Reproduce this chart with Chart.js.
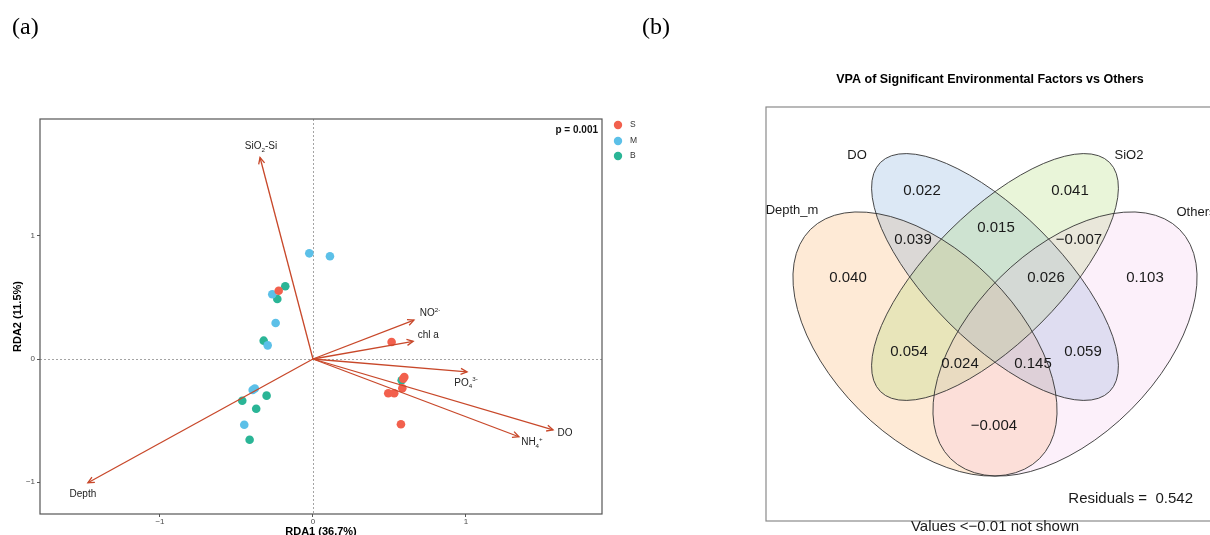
<!DOCTYPE html>
<html><head><meta charset="utf-8">
<script src="https://cdn.jsdelivr.net/npm/chart.js@4.4.1/dist/chart.umd.min.js"></script>
<style>
html,body{margin:0;padding:0;background:#fff;width:1210px;height:535px;overflow:hidden;}
#wrap{position:relative;width:1210px;height:535px;}
canvas{position:absolute;top:0;}
#ca{left:0;} #cb{left:700px;}
.pl{position:absolute;top:14px;font-family:"Liberation Serif","Times New Roman",serif;font-size:24px;line-height:1;color:#000;}
</style></head><body>
<div id="wrap">
<canvas id="ca" width="700" height="535"></canvas>
<canvas id="cb" width="510" height="535"></canvas>
<div class="pl" style="left:12px">(a)</div>
<div class="pl" style="left:642px">(b)</div>
</div>
<script>
// ---------- Panel (a): RDA biplot data ----------
const xTicks = [-1, 0, 1];
const yTicks = [-1, 0, 1];
const groups = ['S', 'M', 'B'];
const sX = [-0.224, 0.514, 0.597, 0.590, 0.584, 0.492, 0.531, 0.575];
const sY = [0.555, 0.138, -0.146, -0.160, -0.238, -0.279, -0.279, -0.531];
const mX = [-0.024, 0.111, -0.266, -0.244, -0.296, -0.394, -0.380, -0.449];
const mY = [0.859, 0.835, 0.526, 0.293, 0.111, -0.252, -0.240, -0.534];
const bX = [-0.181, -0.233, -0.322, -0.303, -0.462, -0.371, -0.414, 0.580];
const bY = [0.591, 0.488, 0.149, -0.298, -0.339, -0.404, -0.656, -0.173];
const envVars = ['SiO₂-Si', 'NO²⁻', 'chl a', 'PO₄³⁻', 'DO', 'NH₄⁺', 'Depth'];
const envX = [-0.346, 0.660, 0.655, 1.007, 1.569, 1.346, -1.471];
const envY = [1.638, 0.316, 0.144, -0.105, -0.576, -0.632, -1.006];
const pText = 'p = 0.001';
const xTitle = 'RDA1 (36.7%)';
const yTitle = 'RDA2 (11.5%)';

// ---------- Panel (b): variation partitioning data ----------
const vpaTitle = 'VPA of Significant Environmental Factors vs Others';
const vennSets = ['Depth_m', 'DO', 'SiO2', 'Others'];
const vennValues = ['0.022', '0.041', '0.015', '0.039', '\u22120.007', '0.040', '0.026', '0.103', '0.054', '0.024', '0.145', '0.059', '\u22120.004'];
const residualValue = '0.542';
const noteText = 'Values <\u22120.01 not shown';

// ---------- styles / layout ----------
const FAM = '"Liberation Sans", Arial, Helvetica, sans-serif';
Chart.defaults.font.family = FAM;
const groupColors = {S: '#F2604D', M: '#5CC0E8', B: '#2AB596'};
const arrowColor = '#C8482A';
const envLabelOffset = {'SiO₂-Si': [1, -12], 'NO²⁻': [16, -8], 'chl a': [15, -7], 'PO₄³⁻': [-1, 10], 'DO': [12, 3], 'NH₄⁺': [13, 5], 'Depth': [-5, 11]};

const vennLayout = {
  ellipses: [
    {cx: -70, cy: 0, a: 162, b: 93, rot: -45, fill: 'rgba(250,160,70,0.22)'},
    {cx: 0, cy: 67, a: 162, b: 65, rot: -45, fill: 'rgba(110,160,215,0.24)'},
    {cx: 0, cy: 67, a: 162, b: 65, rot: 45, fill: 'rgba(165,215,95,0.24)'},
    {cx: 70, cy: 0, a: 162, b: 93, rot: 45, fill: 'rgba(240,170,225,0.18)'}
  ],
  regionPos: [[-73, 153], [75, 153], [1, 116], [-82, 104], [84, 104], [-147, 66], [51, 66], [150, 66], [-86, -8], [-35, -20], [38, -20], [88, -8], [-1, -82]],
  setLabelPos: [[-203, 134], [-138, 189], [134, 189], [201, 132]],
  frame: {left: -229, top: 237, bottom: -177, right: 260},
  titlePos: [-5, 264],
  residualPos: [198, -155],
  notePos: [0, -183]
};

// ---------- helpers ----------
const SUB = {'₂': '2', '₄': '4'}, SUP = {'²': '2', '³': '3', '⁻': '-', '⁺': '+'};
function richParts(t) {
  const parts = [];
  for (const ch of t) {
    const k = SUB[ch] ? -1 : (SUP[ch] ? 1 : 0);
    const c = SUB[ch] || SUP[ch] || ch;
    if (parts.length && parts[parts.length - 1].k === k) parts[parts.length - 1].s += c;
    else parts.push({k, s: c});
  }
  return parts;
}
function drawRich(ctx, text, cx, cy, size) {
  const parts = richParts(text);
  const small = size * 0.62;
  let w = 0;
  parts.forEach(p => { ctx.font = (p.k ? small : size) + 'px ' + FAM; p.w = ctx.measureText(p.s).width; w += p.w; });
  let x = cx - w / 2;
  ctx.textAlign = 'left';
  ctx.textBaseline = 'alphabetic';
  const base = cy + size * 0.36;
  parts.forEach(p => {
    ctx.font = (p.k ? small : size) + 'px ' + FAM;
    const dy = p.k === -1 ? size * 0.25 : (p.k === 1 ? -size * 0.42 : 0);
    ctx.fillText(p.s, x, base + dy);
    x += p.w;
  });
}
const fmtTick = v => v < 0 ? '\u2212' + Math.abs(v) : String(v);

// ---------- Panel (a) chart ----------
const dsA = [];
envVars.forEach((v, i) => dsA.push({
  type: 'line', label: v, data: [{x: 0, y: 0}, {x: envX[i], y: envY[i]}],
  borderColor: arrowColor, borderWidth: 1.3, pointRadius: 0, pointHoverRadius: 0, fill: false, tension: 0, order: 0
}));
[['S', sX, sY], ['M', mX, mY], ['B', bX, bY]].forEach(([g, xs, ys]) => dsA.push({
  type: 'scatter', label: g, data: xs.map((x, i) => ({x, y: ys[i]})),
  backgroundColor: groupColors[g], borderWidth: 0, pointRadius: 4.3, pointHoverRadius: 4.3, order: 1
}));

const rdaPlugin = {
  id: 'rda',
  beforeDatasetsDraw(chart) {
    const {ctx, chartArea: a, scales: {x, y}} = chart;
    ctx.save();
    ctx.strokeStyle = '#9a9a9a'; ctx.lineWidth = 0.9; ctx.setLineDash([2, 2]);
    const x0 = Math.round(x.getPixelForValue(0)) + 0.5, y0 = Math.round(y.getPixelForValue(0)) + 0.5;
    ctx.beginPath(); ctx.moveTo(x0, a.top); ctx.lineTo(x0, a.bottom); ctx.stroke();
    ctx.beginPath(); ctx.moveTo(a.left, y0); ctx.lineTo(a.right, y0); ctx.stroke();
    ctx.restore();
  },
  afterDatasetsDraw(chart) {
    const {ctx, scales: {x, y}} = chart;
    ctx.save();
    envVars.forEach((v, i) => {
      const px0 = x.getPixelForValue(0), py0 = y.getPixelForValue(0);
      const px = x.getPixelForValue(envX[i]), py = y.getPixelForValue(envY[i]);
      const ang = Math.atan2(py - py0, px - px0);
      const L = 7, h = 0.45;
      ctx.strokeStyle = arrowColor; ctx.lineWidth = 1.3; ctx.setLineDash([]);
      ctx.beginPath();
      ctx.moveTo(px - L * Math.cos(ang - h), py - L * Math.sin(ang - h));
      ctx.lineTo(px, py);
      ctx.lineTo(px - L * Math.cos(ang + h), py - L * Math.sin(ang + h));
      ctx.stroke();
      const off = envLabelOffset[v];
      ctx.fillStyle = '#222';
      drawRich(ctx, v, px + off[0], py + off[1], 10);
    });
    ctx.restore();
  },
  afterDraw(chart) {
    const {ctx, chartArea: a} = chart;
    ctx.save();
    ctx.strokeStyle = '#555'; ctx.lineWidth = 1.2;
    ctx.strokeRect(a.left, a.top, a.right - a.left, a.bottom - a.top);
    ctx.fillStyle = '#111';
    ctx.font = 'bold 10px ' + FAM; ctx.textAlign = 'right'; ctx.textBaseline = 'middle';
    ctx.fillText(pText, a.right - 4, a.top + 11);
    const ly = [a.top + 6, a.top + 22, a.top + 37];
    groups.forEach((g, i) => {
      ctx.fillStyle = groupColors[g];
      ctx.beginPath(); ctx.arc(a.right + 16, ly[i], 4.2, 0, Math.PI * 2); ctx.fill();
      ctx.fillStyle = '#333'; ctx.font = '8.5px ' + FAM; ctx.textAlign = 'left';
      ctx.fillText(g, a.right + 28, ly[i]);
    });
    ctx.restore();
  }
};

new Chart(document.getElementById('ca'), {
  type: 'scatter',
  data: {datasets: dsA},
  options: {
    responsive: false, animation: false, devicePixelRatio: 1, events: [],
    layout: {padding: {left: 0, top: 119, right: 98, bottom: 0}},
    scales: {
      x: {
        type: 'linear', min: -1.784, max: 1.889,
        afterBuildTicks: s => { s.ticks = xTicks.map(v => ({value: v})); },
        afterFit: s => { s.height = 21; },
        grid: {drawOnChartArea: false, drawTicks: true, tickLength: 3, tickColor: '#555', tickWidth: 1},
        border: {display: false},
        ticks: {padding: 0, font: {size: 8}, color: '#4d4d4d', callback: fmtTick, maxRotation: 0},
        title: {display: true, text: xTitle, color: '#000', font: {size: 11, weight: 'bold'}, padding: {top: 0, bottom: -3.6}}
      },
      y: {
        type: 'linear', min: -1.260, max: 1.951,
        afterBuildTicks: s => { s.ticks = yTicks.map(v => ({value: v})); },
        afterFit: s => { s.width = 40; },
        grid: {drawOnChartArea: false, drawTicks: true, tickLength: 3, tickColor: '#555', tickWidth: 1},
        border: {display: false},
        ticks: {padding: 2, font: {size: 8}, color: '#4d4d4d', callback: fmtTick},
        title: {display: true, text: yTitle, color: '#000', font: {size: 11, weight: 'bold'}, padding: {top: 11.4, bottom: 0}}
      }
    },
    plugins: {legend: {display: false}, tooltip: {enabled: false}}
  },
  plugins: [rdaPlugin]
});

// ---------- Panel (b) chart ----------
const vennPlugin = {
  id: 'venn',
  beforeDatasetsDraw(chart) {
    const {ctx, scales: {x, y}} = chart;
    const sx = x.getPixelForValue(1) - x.getPixelForValue(0);
    const sy = y.getPixelForValue(0) - y.getPixelForValue(1);
    const path = e => {
      ctx.save();
      ctx.beginPath();
      ctx.translate(x.getPixelForValue(e.cx), y.getPixelForValue(e.cy));
      ctx.scale(sx, sy);
      ctx.rotate(-e.rot * Math.PI / 180);
      ctx.ellipse(0, 0, e.a, e.b, 0, 0, Math.PI * 2);
      ctx.restore();
    };
    ctx.save();
    vennLayout.ellipses.forEach(e => { path(e); ctx.fillStyle = e.fill; ctx.fill(); });
    ctx.strokeStyle = '#333'; ctx.lineWidth = 0.9;
    vennLayout.ellipses.forEach(e => { path(e); ctx.stroke(); });
    const f = vennLayout.frame;
    ctx.strokeStyle = '#8a8a8a'; ctx.lineWidth = 1.2;
    const L = x.getPixelForValue(f.left), R = x.getPixelForValue(f.right), T = y.getPixelForValue(f.top), B = y.getPixelForValue(f.bottom);
    ctx.strokeRect(L, T, R - L, B - T);
    ctx.restore();
  },
  afterDatasetsDraw(chart) {
    const {ctx, scales: {x, y}} = chart;
    const meta = chart.getDatasetMeta(0);
    ctx.save();
    ctx.fillStyle = '#1a1a1a';
    ctx.textAlign = 'center'; ctx.textBaseline = 'middle';
    ctx.font = '15px ' + FAM;
    meta.data.forEach((pt, i) => ctx.fillText(vennValues[i], pt.x, pt.y));
    ctx.font = '13px ' + FAM;
    vennSets.forEach((s, i) => {
      const p = vennLayout.setLabelPos[i];
      ctx.fillText(s, x.getPixelForValue(p[0]), y.getPixelForValue(p[1]));
    });
    ctx.font = 'bold 12.5px ' + FAM;
    ctx.fillStyle = '#000';
    ctx.fillText(vpaTitle, x.getPixelForValue(vennLayout.titlePos[0]), y.getPixelForValue(vennLayout.titlePos[1]));
    ctx.font = '15px ' + FAM; ctx.fillStyle = '#1a1a1a';
    ctx.textAlign = 'right';
    ctx.fillText('Residuals =  ' + residualValue, x.getPixelForValue(vennLayout.residualPos[0]), y.getPixelForValue(vennLayout.residualPos[1]));
    ctx.textAlign = 'center';
    ctx.fillText(noteText, x.getPixelForValue(vennLayout.notePos[0]), y.getPixelForValue(vennLayout.notePos[1]));
    ctx.restore();
  }
};

new Chart(document.getElementById('cb'), {
  type: 'scatter',
  data: {datasets: [{label: 'regions', data: vennLayout.regionPos.map(p => ({x: p[0], y: p[1]})), pointRadius: 0, pointHoverRadius: 0}]},
  options: {
    responsive: false, animation: false, devicePixelRatio: 1, events: [],
    layout: {padding: 0},
    scales: {
      x: {type: 'linear', display: false, min: -295, max: 215},
      y: {type: 'linear', display: false, min: -191, max: 344}
    },
    plugins: {legend: {display: false}, tooltip: {enabled: false}}
  },
  plugins: [vennPlugin]
});
</script>
</body></html>
